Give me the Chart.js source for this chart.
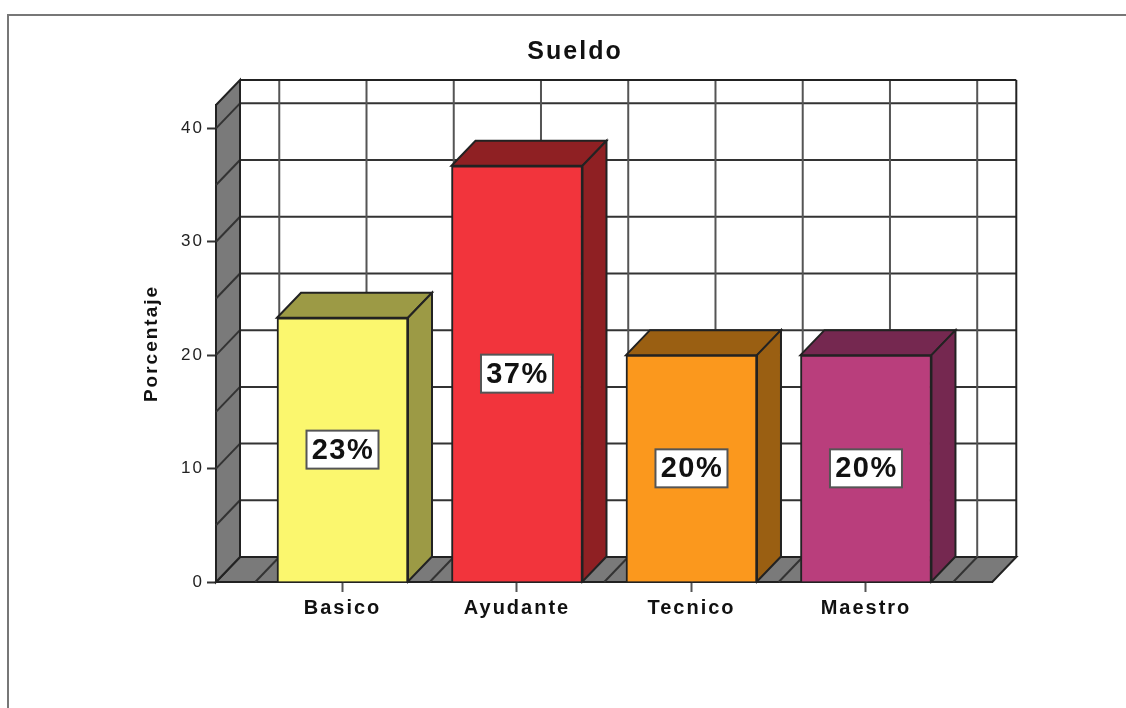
<!DOCTYPE html>
<html>
<head>
<meta charset="utf-8">
<title>Sueldo</title>
<script src="https://cdn.jsdelivr.net/npm/chart.js@4"></script>
<style>
    html, body { margin: 0; padding: 0; background: #fff; overflow: hidden; }
    #frame { position: absolute; left: 7px; top: 14px; width: 1119px; height: 694px;
             border-top: 2px solid #777; border-left: 2px solid #777; box-sizing: border-box; }
    #grafico { position: absolute; left: 0; top: 0; filter: blur(0.4px); }
</style>
</head>
<body>
<div id="frame"></div>
<canvas id="grafico" width="1126" height="708"></canvas>
<script>
// datos
var categories = ['Basico', 'Ayudante', 'Tecnico', 'Maestro'];
var positions = [0, 1, 2, 3];
var values = [23.3, 36.7, 20, 20];
var yTicks = [0, 10, 20, 30, 40];
var wallYLines = [5, 10, 15, 20, 25, 30, 35, 40];
var wallXLines = [-0.5, 0, 0.5, 1, 1.5, 2, 2.5, 3, 3.5];
var frontColors = ['#fbf76e', '#f2343c', '#fb981d', '#b93e7c'];
var darkColors = ['#9c9a45', '#8f2023', '#9a5f12', '#752850'];

var depthX = 24;
var depthY = 25;
var edgeColor = '#222';
var wallColor = '#7a7a7a';

function poly(ctx, pts, fill) {
    ctx.beginPath();
    ctx.moveTo(pts[0][0], pts[0][1]);
    for (var i = 1; i < pts.length; i++) ctx.lineTo(pts[i][0], pts[i][1]);
    ctx.closePath();
    if (fill) { ctx.fillStyle = fill; ctx.fill(); }
    ctx.stroke();
}

function seg(ctx, x1, y1, x2, y2) {
    ctx.beginPath();
    ctx.moveTo(x1, y1);
    ctx.lineTo(x2, y2);
    ctx.stroke();
}

var caja3d = {
    id: 'caja3d',
    // centra el titulo como en la imagen
    afterLayout: function (chart) {
        chart.titleBlock.left = 24;
        chart.titleBlock.right = 1126;
    },
    beforeDraw: function (chart) {
        chart.ctx.letterSpacing = '2px';
    },
    // paredes, suelo y caras laterales de las barras
    beforeDatasetsDraw: function (chart) {
        var ctx = chart.ctx;
        var a = chart.chartArea;
        var xs = chart.scales.x;
        var ys = chart.scales.y;
        var top = a.top - depthY;
        var backBottom = a.bottom - depthY;
        var backLeft = a.left + depthX;
        var backRight = a.right + depthX;

        ctx.save();
        ctx.letterSpacing = '0px';
        ctx.strokeStyle = edgeColor;
        ctx.lineWidth = 2;

        // suelo
        poly(ctx, [[a.left, a.bottom], [backLeft, backBottom], [backRight, backBottom], [a.right, a.bottom]], wallColor);
        // pared izquierda
        poly(ctx, [[a.left, a.top], [backLeft, top], [backLeft, backBottom], [a.left, a.bottom]], wallColor);

        // rejilla del fondo
        wallYLines.forEach(function (v) {
            var y = ys.getPixelForValue(v);
            ctx.strokeStyle = '#333';
            seg(ctx, backLeft, y - depthY, backRight, y - depthY);
            seg(ctx, a.left, y, backLeft, y - depthY);
        });
        wallXLines.forEach(function (v) {
            var x = xs.getPixelForValue(v);
            ctx.strokeStyle = '#555';
            seg(ctx, x + depthX, top, x + depthX, backBottom);
            ctx.strokeStyle = '#333';
            seg(ctx, x + depthX, backBottom, x, a.bottom);
        });
        ctx.strokeStyle = edgeColor;
        seg(ctx, backLeft, top, backRight, top);
        seg(ctx, backRight, top, backRight, backBottom);
        seg(ctx, backLeft, top, backLeft, backBottom);

        // caras de cada barra
        chart.getDatasetMeta(0).data.forEach(function (bar, i) {
            var l = bar.x - bar.width / 2;
            var r = bar.x + bar.width / 2;
            poly(ctx, [[l, bar.y], [l + depthX, bar.y - depthY], [r + depthX, bar.y - depthY], [r, bar.y]], darkColors[i]);
            poly(ctx, [[r, bar.y], [r + depthX, bar.y - depthY], [r + depthX, bar.base - depthY], [r, bar.base]], darkColors[i]);
        });
        ctx.restore();
    },
    // etiquetas de porcentaje
    afterDatasetsDraw: function (chart) {
        var ctx = chart.ctx;
        ctx.save();
        ctx.font = 'bold 29px "Liberation Sans", Arial, sans-serif';
        ctx.letterSpacing = '1.5px';
        ctx.textAlign = 'center';
        ctx.textBaseline = 'middle';
        chart.getDatasetMeta(0).data.forEach(function (bar, i) {
            var cy = (bar.y + bar.base) / 2;
            ctx.fillStyle = '#fff';
            ctx.strokeStyle = '#555';
            ctx.lineWidth = 2;
            ctx.fillRect(bar.x - 36, cy - 19, 72, 38);
            ctx.strokeRect(bar.x - 36, cy - 19, 72, 38);
            ctx.fillStyle = '#111';
            ctx.fillText(Math.round(values[i]) + '%', bar.x + 0.5, cy + 1);
        });
        ctx.restore();
    }
};

new Chart(document.getElementById('grafico').getContext('2d'), {
    type: 'bar',
    data: {
        datasets: [{
            label: 'Sueldo',
            data: values.map(function (v, i) { return { x: positions[i], y: v }; }),
            backgroundColor: frontColors,
            borderColor: edgeColor,
            borderWidth: 2,
            barThickness: 131
        }]
    },
    plugins: [caja3d],
    options: {
        responsive: false,
        animation: false,
        layout: { padding: { right: 133.7 } },
        plugins: {
            legend: { display: false },
            tooltip: { enabled: false },
            title: {
                display: true,
                text: 'Sueldo',
                color: '#111',
                font: { family: "'Liberation Sans', Arial, sans-serif", size: 25, weight: 'bold', lineHeight: 1.2 },
                padding: { top: 37, bottom: 38 }
            }
        },
        scales: {
            x: {
                type: 'linear',
                min: -0.725,
                max: 3.724,
                offset: false,
                afterFit: function (s) { s.height = 126; },
                afterBuildTicks: function (s) {
                    s.ticks = positions.map(function (p) { return { value: p }; });
                },
                grid: { offset: false, drawOnChartArea: false, tickLength: 10, tickColor: '#555', tickWidth: 2 },
                border: { color: edgeColor, width: 2 },
                ticks: {
                    autoSkip: false,
                    maxRotation: 0,
                    padding: 4,
                    color: '#111',
                    font: { family: "'Liberation Sans', Arial, sans-serif", size: 20, weight: 'bold' },
                    callback: function (v) { return categories[v]; }
                }
            },
            y: {
                min: 0,
                max: 42.06,
                afterFit: function (s) { s.width = 216; },
                afterBuildTicks: function (s) {
                    s.ticks = yTicks.map(function (v) { return { value: v }; });
                },
                grid: { drawOnChartArea: false, tickLength: 9, tickColor: '#333', tickWidth: 2 },
                border: { color: edgeColor, width: 2 },
                title: {
                    display: true,
                    text: 'Porcentaje',
                    color: '#111',
                    font: { family: "'Liberation Sans', Arial, sans-serif", size: 19, weight: 'bold' },
                    padding: { top: 140, bottom: 0 }
                },
                ticks: {
                    padding: 3,
                    color: '#222',
                    font: { family: "'Liberation Sans', Arial, sans-serif", size: 17 }
                }
            }
        }
    }
});
</script>
</body>
</html>
